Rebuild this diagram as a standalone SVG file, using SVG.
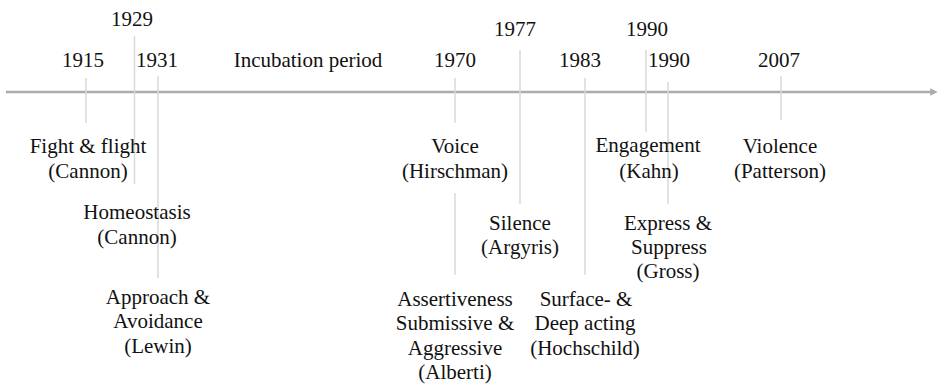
<svg xmlns="http://www.w3.org/2000/svg" width="939" height="386" viewBox="0 0 939 386" font-family="'Liberation Serif', 'Times New Roman', serif" font-size="21">
<defs>
<style>
text{fill:#111;text-anchor:middle}
.tick{stroke:#d9d9d9;stroke-width:1.5;fill:none}
.axis{stroke:#ababab;stroke-width:2.5;fill:none}
</style>
<marker id="arr" viewBox="0 0 6 6" refX="3" refY="3" markerWidth="3" markerHeight="3" orient="auto" markerUnits="strokeWidth">
<path d="M0,0 L6,3 L0,6 Z" fill="#ababab"/>
</marker>
</defs>
<rect width="939" height="386" fill="#fff"/>
<g id="connectors">
<line class="axis" x1="6" y1="92" x2="934" y2="92" marker-end="url(#arr)"/>
<line class="tick" x1="86" y1="78" x2="86" y2="123"/>
<line class="tick" x1="134.5" y1="36" x2="134.5" y2="184"/>
<line class="tick" x1="158" y1="76" x2="158" y2="278"/>
<path class="tick" d="M455,78 V123 M455,193 V275"/>
<line class="tick" x1="520" y1="50" x2="520" y2="204"/>
<line class="tick" x1="585" y1="78" x2="585" y2="275"/>
<line class="tick" x1="646" y1="50" x2="646" y2="132"/>
<line class="tick" x1="668" y1="82" x2="668" y2="204"/>
<line class="tick" x1="781" y1="76" x2="781" y2="120"/>
</g>
<g id="y1915"><text x="83" y="67">1915</text><text x="88" y="153">Fight &amp; flight</text><text x="88" y="178">(Cannon)</text></g>
<g id="y1929"><text x="132" y="26">1929</text><text x="137" y="219">Homeostasis</text><text x="137" y="244">(Cannon)</text></g>
<g id="y1931"><text x="157" y="67">1931</text><text x="158" y="304">Approach &amp;</text><text x="158" y="328">Avoidance</text><text x="158" y="353">(Lewin)</text></g>
<g id="incubation"><text x="308" y="67">Incubation period</text></g>
<g id="y1970"><text x="455" y="67">1970</text><text x="455" y="153">Voice</text><text x="455" y="178">(Hirschman)</text><text x="455" y="306">Assertiveness</text><text x="455" y="330">Submissive &amp;</text><text x="455" y="355">Aggressive</text><text x="455" y="379">(Alberti)</text></g>
<g id="y1977"><text x="515" y="36">1977</text><text x="520" y="230">Silence</text><text x="520" y="254">(Argyris)</text></g>
<g id="y1983"><text x="580" y="67">1983</text><text x="586" y="306">Surface- &amp;</text><text x="585" y="330">Deep acting</text><text x="585" y="355">(Hochschild)</text></g>
<g id="y1990a"><text x="647" y="36">1990</text><text x="648" y="152">Engagement</text><text x="649" y="178">(Kahn)</text></g>
<g id="y1990b"><text x="669" y="67">1990</text><text x="668" y="230">Express &amp;</text><text x="669" y="254">Suppress</text><text x="668" y="278">(Gross)</text></g>
<g id="y2007"><text x="779" y="67">2007</text><text x="780" y="153">Violence</text><text x="780" y="178">(Patterson)</text></g>
</svg>
